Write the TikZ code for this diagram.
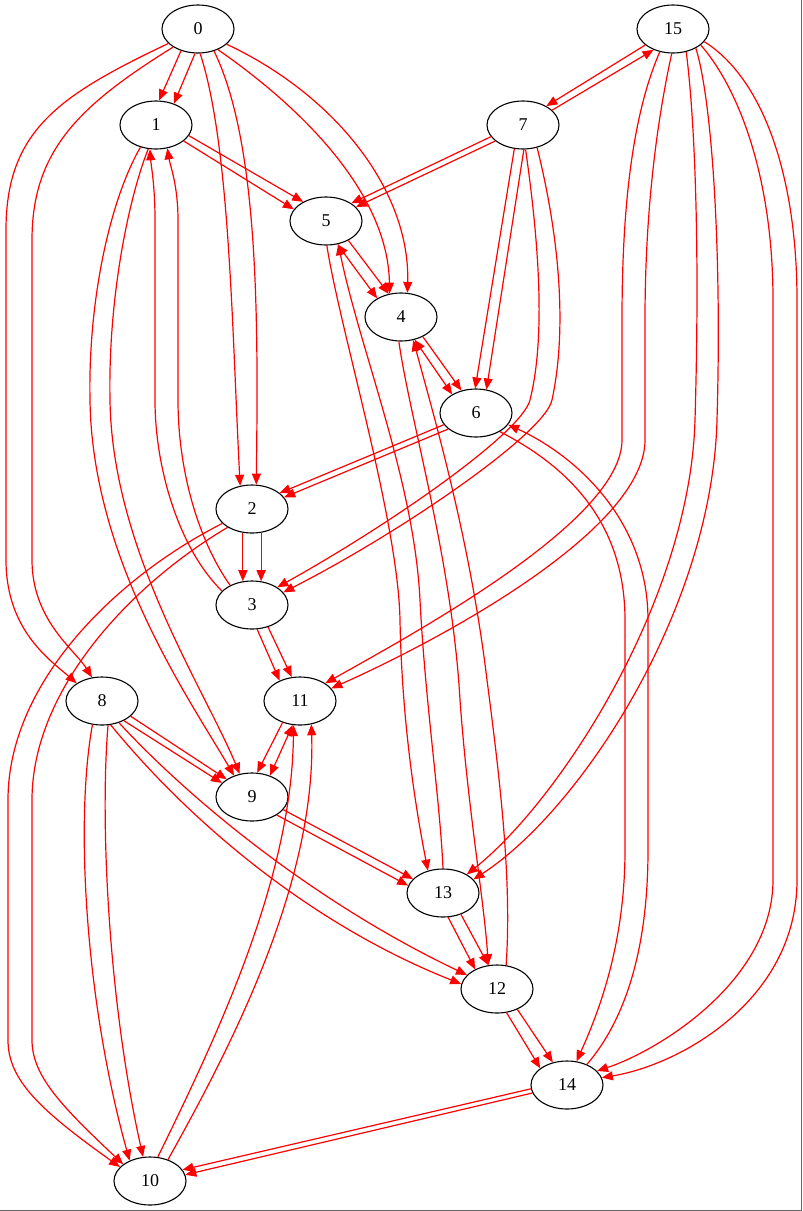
\documentclass[tikz,border=0pt]{standalone}
\usepackage{fontspec}
\setmainfont{Liberation Serif}
\usetikzlibrary{shapes.geometric,arrows.meta}
\tikzset{
  vtx/.style={draw, line width=1.1pt, ellipse, minimum width=72pt, minimum height=48pt, inner sep=0pt, font=\fontsize{18}{20}\selectfont},
  redline/.style={draw=red, line width=1.2pt, -{Triangle[length=11pt,width=9pt]}},
  bothline/.style={draw=red, line width=1.2pt, {Triangle[length=11pt,width=9pt]}-{Triangle[length=11pt,width=9pt]}},
  frameline/.style={draw=black!60, line width=1.3pt}
}
\begin{document}
\begin{tikzpicture}[x=1pt,y=-1pt]
\useasboundingbox (0,0) rectangle (803,1211);
\draw[frameline] (0,1210.3) -- (801.7,1210.3) -- (801.7,0);
% nodes
\node[vtx] (n0) at (198,29) {0};
\node[vtx] (n15) at (673,29) {15};
\node[vtx] (n1) at (156,125) {1};
\node[vtx] (n7) at (523,125) {7};
\node[vtx] (n5) at (326,221) {5};
\node[vtx] (n4) at (401,317) {4};
\node[vtx] (n6) at (476,413) {6};
\node[vtx] (n2) at (252,509) {2};
\node[vtx] (n3) at (252,605) {3};
\node[vtx] (n11) at (300,701) {11};
\node[vtx] (n8) at (102,701) {8};
\node[vtx] (n9) at (252,797) {9};
\node[vtx] (n13) at (443,893) {13};
\node[vtx] (n12) at (497,989) {12};
\node[vtx] (n14) at (567,1085) {14};
\node[vtx] (n10) at (150,1181) {10};
% 0 -> 1
\draw[redline] (n0.-128) -- (n1.83);
\draw[redline] (n0.-97) -- (n1.50);
% 0 -> 2
\draw[redline] (n0.-85) .. controls (230,145) and (232,330) .. (n2.117);
\draw[redline] (n0.-54) .. controls (260,145) and (258,330) .. (n2.80);
% 0 -> 4
\draw[redline] (n0.-46) .. controls (305,110) and (388,195) .. (n4.116);
\draw[redline] (n0.-28) .. controls (335,95) and (410,190) .. (n4.75);
% 0 -> 8
\draw[redline] (n0.-154) .. controls (60,95) and (6,130) .. (6,230) -- (6,560) .. controls (6,630) and (50,660) .. (n8.145);
\draw[redline] (n0.-144) .. controls (80,105) and (32,150) .. (32,240) -- (32,560) .. controls (32,620) and (75,650) .. (n8.113);
% 1 -> 5
\draw[redline] (n1.-30) -- (n5.160);
\draw[redline] (n1.-18) -- (n5.140);
% 1 -> 9
\draw[redline] (n1.-125) .. controls (110,200) and (88,300) .. (90,400) .. controls (92,560) and (190,700) .. (n9.130);
\draw[redline] (n1.-108) .. controls (128,200) and (108,300) .. (110,400) .. controls (112,550) and (205,690) .. (n9.118);
% 3 -> 1
\draw[redline] (n3.155) .. controls (180,550) and (155,470) .. (155,400) -- (155,220) .. controls (155,185) and (151,165) .. (n1.-104);
\draw[redline] (n3.138) .. controls (198,540) and (178,470) .. (178,400) -- (178,220) .. controls (178,185) and (170,165) .. (n1.-64);
% 15 <-> 7
\draw[redline] (n15.-150) -- (n7.39);
\draw[redline] (n7.27) -- (n15.-133);
% 7 -> 5
\draw[redline] (n7.-160) -- (n5.35);
\draw[redline] (n7.-150) -- (n5.25);
% 7 -> 6
\draw[redline] (n7.-110) -- (n6.92);
\draw[redline] (n7.-88) -- (n6.66);
% 7 -> 3
\draw[redline] (n7.-84) .. controls (540,250) and (545,340) .. (530,400) .. controls (522,432) and (396,521) .. (n3.35);
\draw[redline] (n7.-58) .. controls (560,240) and (567,330) .. (552,400) .. controls (545,433) and (405,530) .. (n3.22);
% 5 <-> 4
\draw[bothline] (n5.-64) -- (n4.142);
\draw[redline] (n5.-41) -- (n4.118);
% 4 <-> 6
\draw[bothline] (n4.-59) -- (n6.142);
\draw[redline] (n4.-42) -- (n6.123);
% 5 <-> 13
\draw[redline] (n5.-88) .. controls (340,330) and (398,520) .. (400,620) .. controls (402,730) and (418,820) .. (n13.124);
\draw[redline] (n13.90) .. controls (440,800) and (425,700) .. (420,600) .. controls (414,480) and (360,350) .. (n5.-62);
% 4 <-> 12
\draw[redline] (n4.-95) .. controls (410,420) and (452,560) .. (460,700) .. controls (468,810) and (484,900) .. (n12.110);
\draw[redline] (n12.69) .. controls (512,880) and (500,780) .. (487,680) .. controls (470,540) and (435,420) .. (n4.-62);
% 6 -> 2
\draw[redline] (n6.-160) -- (n2.30);
\draw[redline] (n6.-150) -- (n2.20);
% 6 <-> 14
\draw[redline] (n6.-38) .. controls (565,465) and (625,520) .. (625,620) -- (625,850) .. controls (625,950) and (595,1020) .. (n14.68);
\draw[redline] (n14.46) .. controls (625,1020) and (648,950) .. (648,850) -- (648,620) .. controls (648,520) and (575,455) .. (n6.-20);
% 2 -> 3
\draw[redline] (n2.-111) -- (n3.111);
\draw[redline] (n2.-69) -- (n3.69);
% 2 -> 10
\draw[redline] (n2.-154) .. controls (120,575) and (8,680) .. (8,800) -- (8,1040) .. controls (8,1080) and (40,1110) .. (n10.155);
\draw[redline] (n2.-143) .. controls (130,585) and (32,690) .. (32,800) -- (32,1040) .. controls (32,1075) and (60,1105) .. (n10.148);
% 3 -> 11
\draw[redline] (n3.-78) -- (n11.135);
\draw[redline] (n3.-54) -- (n11.109);
% 15 -> 11
\draw[redline] (n15.-120) .. controls (630,120) and (622,220) .. (622,320) -- (622,440) .. controls (622,520) and (420,630) .. (n11.35);
\draw[redline] (n15.-93) .. controls (655,130) and (645,220) .. (645,320) -- (645,440) .. controls (645,530) and (440,640) .. (n11.22);
% 15 -> 13
\draw[redline] (n15.-60) .. controls (695,120) and (700,250) .. (695,420) .. controls (690,600) and (560,800) .. (n13.38);
\draw[redline] (n15.-40) .. controls (712,100) and (722,250) .. (717,420) .. controls (712,610) and (580,810) .. (n13.24);
% 15 -> 14
\draw[redline] (n15.-30) .. controls (740,90) and (773,180) .. (773,300) -- (773,880) .. controls (773,980) and (660,1050) .. (n14.25);
\draw[redline] (n15.-22) .. controls (765,80) and (797,180) .. (797,300) -- (797,880) .. controls (797,1000) and (680,1065) .. (n14.12);
% 8 -> 9
\draw[redline] (n8.-42) -- (n9.155);
\draw[redline] (n8.-28) -- (n9.145);
% 8 -> 10
\draw[redline] (n8.-112) .. controls (75,820) and (85,1000) .. (n10.135);
\draw[redline] (n8.-76) .. controls (100,820) and (108,1000) .. (n10.106);
% 8 -> 12
\draw[redline] (n8.-70) .. controls (180,810) and (300,920) .. (n12.172);
\draw[redline] (n8.-52) .. controls (195,805) and (320,905) .. (n12.155);
% 11 <-> 9
\draw[redline] (n11.-129) -- (n9.78);
\draw[bothline] (n11.-107) -- (n9.50);
% 10 -> 11
\draw[redline] (n10.72) .. controls (215,1040) and (292,880) .. (n11.-105);
\draw[redline] (n10.50) .. controls (235,1040) and (316,880) .. (n11.-64);
% 9 -> 13
\draw[redline] (n9.-36) -- (n13.168);
\draw[redline] (n9.-22) -- (n13.155);
% 13 -> 12
\draw[redline] (n13.-78) -- (n12.138);
\draw[redline] (n13.-50) -- (n12.110);
% 12 -> 14
\draw[redline] (n12.-68) -- (n14.148);
\draw[redline] (n12.-45) -- (n14.122);
% 14 -> 10
\draw[redline] (n14.-167) -- (n10.10);
\draw[redline] (n14.-174) -- (n10.19);
\end{tikzpicture}
\end{document}
